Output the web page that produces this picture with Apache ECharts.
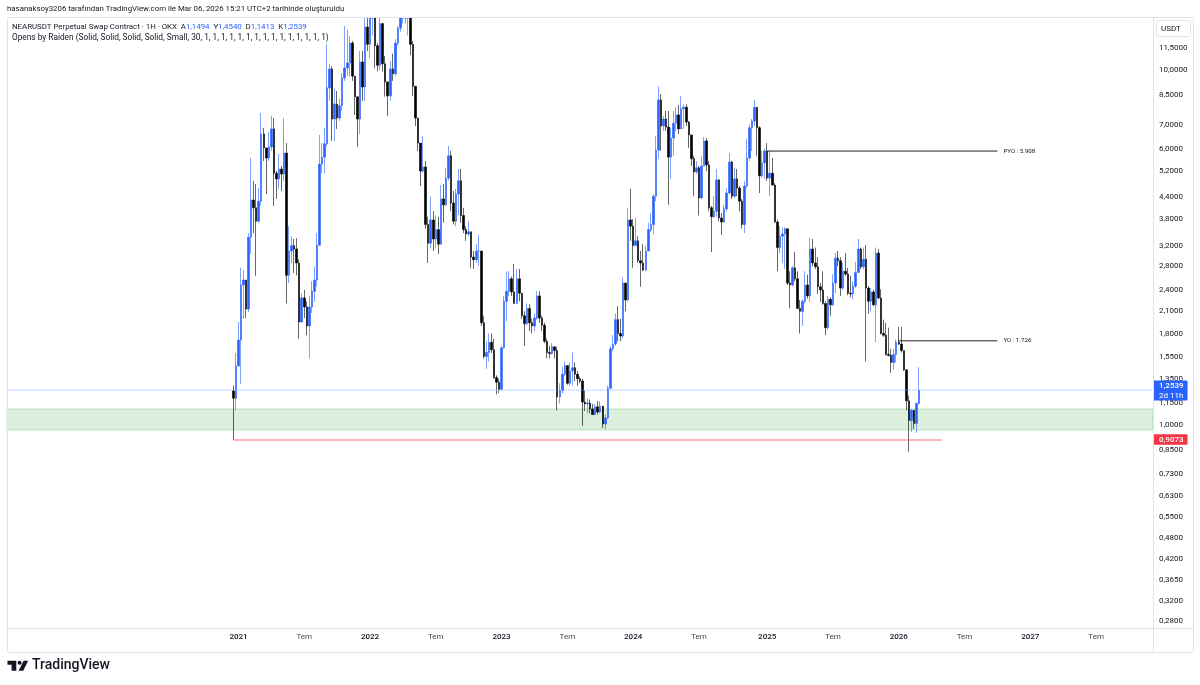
<!DOCTYPE html>
<html>
<head>
<meta charset="utf-8">
<title>NEARUSDT</title>
<style>
  html, body { margin: 0; padding: 0; background: #ffffff; }
  #chart { width: 1200px; height: 685px; }
</style>
<script src="https://cdn.jsdelivr.net/npm/echarts@6/dist/echarts.min.js"></script>
</head>
<body>
<div id="chart"></div>
<script>
const firstWeek = "2020-12-21";
const weeksBefore = 89;
const weeksTotal = 453;

const opens = [
  1.247,1.19,1.466,1.735,2.48,2.56,2.12,3.38,4.30,4.09,
  3.75,4.27,6.6,6.03,5.65,6.07,6.82,5.12,4.93,5.26,
  5.09,5.83,2.64,3.09,3.2,3.13,2.86,1.95,2.28,2.15,
  1.9,2.15,2.38,2.56,3.21,5.43,5.68,6.19,8.9,10.06,
  7.27,8.01,7.32,7.92,9.5,10.13,10.46,11.9,9.6,8.4,
  7.27,10.53,8.95,13.2,11.8,17,14,11.7,10.3,13.5,
  10.4,9.25,8.45,10.06,9.75,11.9,13.1,16,17.5,15.5,
  14.2,11.8,8.99,7.32,6.22,5.19,5.33,3.67,3.25,3.78,
  3.34,3.55,3.23,4.33,4.17,4.96,5.73,4.22,3.75,4.47,
  4.87,3.89,3.55,3.45,3.5,2.97,2.92,3.09,3.09,1.94,
  1.56,1.6,1.71,1.63,1.36,1.32,1.26,1.65,2.23,2.38,
  2.58,2.37,2.2,2.58,2.35,2.03,1.93,2.13,1.94,1.9,
  2.0,2.31,2.0,1.91,1.72,1.6,1.59,1.66,1.62,1.2,
  1.25,1.39,1.47,1.31,1.42,1.45,1.39,1.35,1.33,1.16,
  1.146,1.153,1.11,1.07,1.125,1.088,1.13,1.006,1.047,1.27,
  1.64,1.69,1.98,1.81,1.78,2.51,2.25,3.78,3.63,3.2,
  3.3,2.9,2.86,2.73,3.09,3.55,3.67,4.41,5.95,8.23,
  6.95,7.27,6.9,5.68,6.43,7.08,7.47,6.82,7.77,7.85,
  7.13,6.56,5.62,5.16,5.3,4.36,5.36,6.31,5.4,4.09,
  3.86,4.0,4.9,3.83,3.73,4.06,4.5,5.5,4.41,4.93,
  4.65,4.27,3.67,4.71,5.65,6.87,7.18,7.85,6.87,5.03,
  5.47,5.91,4.96,5.12,4.74,3.73,3.16,3.4,3.45,3.57,
  2.51,2.48,2.77,2.58,2.13,2.09,2.23,2.48,2.31,3.13,
  2.86,2.79,2.45,2.4,2.2,1.88,2.26,2.18,2.51,2.95,
  2.9,2.43,2.71,2.66,2.35,2.34,2.46,2.69,3.13,2.79,
  2.93,2.43,2.23,2.37,2.18,3.05,2.28,1.81,1.79,1.58,
  1.57,1.5,1.58,1.71,1.69,1.62,1.43,1.17,1.03,1.1,
  1.01,1.1494
];

const closes = [
  1.19,1.466,1.735,2.48,2.56,2.12,3.38,4.30,4.09,3.75,
  4.27,6.6,6.03,5.65,6.07,6.82,5.12,4.93,5.26,5.09,
  5.83,2.64,3.09,3.2,3.13,2.86,1.95,2.28,2.15,1.9,
  2.15,2.38,2.56,3.21,5.43,5.68,6.19,8.9,10.06,7.27,
  8.01,7.32,7.92,9.5,10.13,10.46,11.9,9.6,8.4,7.27,
  10.53,8.95,13.2,11.8,17,14,11.7,10.3,13.5,10.4,
  9.25,8.45,10.06,9.75,11.9,13.1,16,17.5,15.5,14.2,
  11.8,8.99,7.32,6.22,5.19,5.33,3.67,3.25,3.78,3.34,
  3.55,3.23,4.33,4.17,4.96,5.73,4.22,3.75,4.47,4.87,
  3.89,3.55,3.45,3.5,2.97,2.92,3.09,3.09,1.94,1.56,
  1.6,1.71,1.63,1.36,1.32,1.26,1.65,2.23,2.38,2.58,
  2.37,2.2,2.58,2.35,2.03,1.93,2.13,1.94,1.9,2.0,
  2.31,2.0,1.91,1.72,1.6,1.59,1.66,1.62,1.2,1.25,
  1.39,1.47,1.31,1.42,1.45,1.39,1.35,1.33,1.16,1.146,
  1.153,1.11,1.07,1.125,1.088,1.13,1.006,1.047,1.27,1.64,
  1.69,1.98,1.81,1.78,2.51,2.25,3.78,3.63,3.2,3.3,
  2.9,2.86,2.73,3.09,3.55,3.67,4.41,5.95,8.23,6.95,
  7.27,6.9,5.68,6.43,7.08,7.47,6.82,7.77,7.85,7.13,
  6.56,5.62,5.16,5.3,4.36,5.36,6.31,5.4,4.09,3.86,
  4.0,4.9,3.83,3.73,4.06,4.5,5.5,4.41,4.93,4.65,
  4.27,3.67,4.71,5.65,6.87,7.18,7.85,6.87,5.03,5.47,
  5.91,4.96,5.12,4.74,3.73,3.16,3.4,3.45,3.57,2.51,
  2.48,2.77,2.58,2.13,2.09,2.23,2.48,2.31,3.13,2.86,
  2.79,2.45,2.4,2.2,1.88,2.26,2.18,2.51,2.95,2.9,
  2.43,2.71,2.66,2.35,2.34,2.46,2.69,3.13,2.79,2.93,
  2.43,2.23,2.37,2.18,3.05,2.28,1.81,1.79,1.58,1.57,
  1.5,1.58,1.71,1.69,1.62,1.43,1.17,1.03,1.1,1.01,
  1.1494,1.2539
];

const highs = [
  1.29,1.595,1.95,2.77,2.73,2.56,3.47,5.65,4.87,4.77,
  4.65,7.56,6.87,6.03,6.68,7.42,7.32,5.19,5.8,5.36,
  7.32,6.22,3.63,3.4,3.34,3.36,2.93,2.34,2.4,2.23,
  2.31,2.54,2.79,3.47,6.56,6.22,6.87,11.8,10.4,10.25,
  8.84,8.72,8.3,9.8,13.3,13,12.45,12.06,9.6,8.4,
  11.31,11.31,15,14.5,18.5,20,15,11.9,15,12.2,
  10.95,9.25,10.6,11.1,12.2,13.3,17,19,20.4,17,
  15,12.06,8.99,7.32,6.19,6.5,5.54,3.86,4.4,4.0,
  3.89,3.86,4.74,4.77,5.3,6.11,5.91,4.56,4.62,5.26,
  5.26,4.09,3.63,3.75,3.5,3.09,3.23,3.43,3.09,2.03,
  1.72,1.81,1.81,1.75,1.38,1.35,1.67,2.31,2.71,2.71,
  2.62,2.84,2.75,2.75,2.35,2.09,2.2,2.19,1.99,2.06,
  2.38,2.38,2.03,1.94,1.75,1.67,1.7,1.66,1.66,1.31,
  1.46,1.51,1.47,1.5,1.6,1.5,1.42,1.37,1.35,1.25,
  1.19,1.18,1.146,1.146,1.168,1.168,1.088,1.07,1.29,1.67,
  1.79,2.06,2.16,1.99,2.6,2.51,4.09,4.62,3.8,3.83,
  3.4,3.09,3.23,3.2,3.71,3.95,4.47,6.5,8.99,8.55,
  7.42,7.66,7.66,6.87,7.66,7.85,7.97,8.45,8.0,8.0,
  7.18,6.56,5.73,5.54,5.36,5.73,6.47,6.43,5.54,4.14,
  4.41,5.26,4.93,3.95,4.17,4.65,5.83,5.54,5.3,5.26,
  4.71,4.33,4.87,6.39,7.03,7.27,8.23,7.85,6.95,5.91,
  6.0,6.22,5.91,5.65,4.8,3.78,3.63,3.6,3.6,3.57,
  2.71,2.8,3.07,2.71,2.25,2.26,2.71,2.65,3.36,3.34,
  3.16,2.97,2.51,2.71,2.23,2.31,2.29,2.66,3.05,3.09,
  2.97,2.86,3.05,2.77,2.63,2.54,2.88,3.34,3.16,3.16,
  3.21,2.46,2.43,2.4,3.16,3.13,2.41,1.98,1.94,1.88,
  1.64,1.64,1.74,1.89,1.89,1.62,1.43,1.21,1.11,1.05,
  1.16,1.454
];

const lows = [
  0.9073,1.10,1.466,1.305,1.99,2.0,2.08,3.03,3.47,2.63,
  3.71,4.14,5.54,4.47,5.54,5.91,4.14,4.33,4.62,4.56,
  4.87,2.2,2.51,2.86,2.68,2.64,1.75,1.94,2.0,1.79,
  1.54,2.07,2.22,2.46,3.2,5.12,5.12,6.1,8.18,6.31,
  6.31,6.82,7.18,7.66,9.31,9.6,9.6,9.31,7.47,6.07,
  6.6,8.18,8.18,11.3,10.8,12.5,10.1,9.9,10,9.9,
  8.4,7.42,8.18,9.31,9.6,11.7,12.8,13.5,13.5,12.5,
  11,8.45,6.95,5.91,4.71,5.12,3.57,2.86,3.14,3.09,
  3.14,3.03,3.47,3.71,4.14,4.87,4.0,3.67,3.63,3.89,
  3.71,3.47,3.3,3.4,2.77,2.75,2.86,2.8,1.9,1.54,
  1.44,1.51,1.595,1.35,1.22,1.23,1.25,1.64,1.96,2.31,
  2.31,2.2,2.19,2.23,1.99,1.67,1.91,1.84,1.81,1.84,
  1.98,1.94,1.84,1.70,1.54,1.54,1.58,1.54,1.1,1.15,
  1.23,1.37,1.3,1.29,1.29,1.33,1.29,1.31,0.994,1.095,
  1.08,1.08,1.067,1.095,1.07,1.08,0.98,0.974,1.04,1.26,
  1.616,1.67,1.72,1.72,1.75,2.09,2.23,3.3,2.77,3.2,
  2.86,2.45,2.71,2.71,3.09,3.5,3.45,4.27,5.62,5.91,
  6.73,6.73,4.17,4.93,5.73,6.73,6.6,6.82,6.82,6.95,
  6.03,5.36,4.41,5.09,3.89,4.33,5.36,5.19,4.0,3.07,
  3.83,3.86,3.75,3.43,3.71,4.0,4.47,4.33,4.36,4.41,
  4.0,3.57,3.47,4.65,5.54,5.91,6.95,5.73,4.5,4.96,
  4.93,4.87,4.41,4.71,3.71,2.71,3.05,2.86,2.75,2.48,
  2.13,2.46,2.54,2.12,1.81,1.9,2.2,2.27,2.22,2.8,
  2.75,2.34,2.22,2.18,1.79,1.86,2.03,2.16,2.35,2.8,
  2.31,2.4,2.63,2.32,2.29,2.26,2.43,2.68,2.75,2.75,
  1.51,2.06,2.09,2.16,1.71,2.26,1.8,1.77,1.57,1.56,
  1.4,1.43,1.5,1.68,1.6,1.42,1.1,0.84,0.955,0.974,
  0.95,1.1413
];

const priceTicks = [11.5, 10, 8.5, 7, 6, 5.2, 4.4, 3.8, 3.2, 2.8, 2.4, 2.1, 1.8, 1.55, 1.35, 1.15, 1, 0.85, 0.73, 0.63, 0.55, 0.48, 0.42, 0.365, 0.32, 0.28];
const dateTicks = ["2021-01-04", "2021-07-05", "2022-01-03", "2022-07-04", "2023-01-02", "2023-07-03", "2024-01-01", "2024-07-01", "2025-01-06", "2025-07-07", "2026-01-05", "2026-07-06", "2027-01-04", "2027-07-05"];
const dateLabels = ["2021", "Tem", "2022", "Tem", "2023", "Tem", "2024", "Tem", "2025", "Tem", "2026", "Tem", "2027", "Tem"];

const priceMin = 0.2664;
const priceMax = 14;
const lastPrice = 1.2539;
const supportLow = 0.9073;
const zoneTop = 1.11;
const zoneBottom = 0.968;
const pyoLine = [["2025-01-06", 5.908], ["2026-10-05", 5.908]];
const yoLine = [["2026-01-05", 1.726], ["2026-10-05", 1.726]];
const lowLine = [["2020-12-21", supportLow], ["2026-05-04", supportLow]];

const FONT = "Roboto, sans-serif";
const TEXT = "#131722";
const BORDER = "#e0e3eb";

function fmtPrice(value) {
  return value.toFixed(4).replace(".", ",");
}

function weekDate(index) {
  const ms = Date.parse(firstWeek + "T00:00:00Z") + index * 7 * 86400000;
  return new Date(ms).toISOString().slice(0, 10);
}

const weeks = [];
for (let i = -weeksBefore; i < weeksTotal - weeksBefore; i += 1) weeks.push(weekDate(i));

const lastPriceLine = [[weeks[0], lastPrice], [weeks[weeks.length - 1], lastPrice]];

// candlestick boxes are not cut at the grid edge, the run above the pane has to be capped here
function capped(value) {
  return Math.min(value, priceMax);
}

const candles = closes.map((close, i) => [weekDate(i), capped(opens[i]), capped(close), lows[i], capped(highs[i])]);

function hLine(name, data, color, label, type) {
  return {
    type: "line",
    name,
    data,
    symbol: "none",
    silent: true,
    lineStyle: { color, width: 1, type: type || "solid" },
    endLabel: label
      ? { show: true, formatter: label, color: TEXT, fontSize: 6.2, fontFamily: FONT, distance: 6 }
      : { show: false },
    z: 3,
  };
}

const chart = echarts.init(document.getElementById("chart"), null, { renderer: "canvas" });

chart.setOption({
  animation: false,
  backgroundColor: "#ffffff",
  grid: { left: 7, right: 47, top: 18, bottom: 56 },
  xAxis: {
    type: "category",
    data: weeks,
    axisLine: { show: false },
    axisTick: { show: false },
    splitLine: { show: false },
    axisLabel: {
      interval: (index, value) => dateTicks.includes(value),
      margin: 4,
      fontSize: 8,
      fontFamily: FONT,
      color: TEXT,
      hideOverlap: false,
      formatter: (value) => {
        const label = dateLabels[dateTicks.indexOf(value)];
        return label === "Tem" ? "{month|Tem}" : "{year|" + label + "}";
      },
      rich: {
        year: { fontSize: 8, fontFamily: FONT, fontWeight: 500, color: TEXT },
        month: { fontSize: 8, fontFamily: FONT, color: "#434651" },
      },
    },
  },
  yAxis: {
    type: "log",
    position: "right",
    logBase: 10,
    min: priceMin,
    max: priceMax,
    axisLine: { show: false },
    axisTick: { show: false },
    splitLine: { show: false },
    axisLabel: {
      customValues: priceTicks,
      margin: 6,
      fontSize: 8,
      fontFamily: FONT,
      color: TEXT,
      formatter: (value) => fmtPrice(value),
    },
  },
  series: [
    {
      type: "candlestick",
      name: "NEARUSDT",
      data: candles,
      encode: { x: 0, y: [1, 2, 3, 4] },
      barWidth: 2,
      itemStyle: {
        color: "#2962ff",
        color0: "#000000",
        borderColor: "rgba(41,98,255,0.6)",
        borderColor0: "rgba(0,0,0,0.6)",
        borderWidth: 1,
      },
      markArea: {
        silent: true,
        itemStyle: { color: "rgba(76,175,80,0.2)", borderColor: "rgba(76,175,80,0.3)", borderWidth: 1 },
        data: [[{ yAxis: zoneTop }, { yAxis: zoneBottom }]],
      },
      markLine: {
        silent: true,
        symbol: "none",
        animation: false,
        lineStyle: { color: "rgba(0,0,0,0)", width: 0 },
        data: [
          {
            yAxis: lastPrice,
            label: {
              show: true,
              position: "end",
              distance: 0,
              formatter: "{a|" + fmtPrice(lastPrice) + "}\n{b|2d 11h}",
              backgroundColor: "#2962ff",
              padding: [1, 4, 0, 6],
              borderRadius: 1,
              rich: {
                a: { color: "#ffffff", fontSize: 8, fontFamily: FONT, fontWeight: 500, lineHeight: 9.5 },
                b: { color: "#ffffff", fontSize: 8, fontFamily: FONT, lineHeight: 9.5 },
              },
            },
          },
          {
            yAxis: supportLow,
            label: {
              show: true,
              position: "end",
              distance: 0,
              formatter: fmtPrice(supportLow),
              color: "#ffffff",
              fontSize: 8,
              fontFamily: FONT,
              fontWeight: 500,
              backgroundColor: "#f23645",
              padding: [1.5, 4, 1, 6],
              borderRadius: 1,
            },
          },
        ],
      },
      z: 2,
    },
    hLine("PYO", pyoLine, "#222222", "PYO : 5.908"),
    hLine("YO", yoLine, "#222222", "YO : 1.726"),
    hLine("low", lowLine, "#f56c72", null),
    hLine("last", lastPriceLine, "#8fa9ff", null, "dotted"),
  ],
  graphic: [
    { type: "rect", shape: { x: 7.5, y: 17.5, width: 1186, height: 635, r: 2 }, style: { fill: "none", stroke: BORDER, lineWidth: 1 }, z: 10 },
    { type: "line", shape: { x1: 7, y1: 628.5, x2: 1193, y2: 628.5 }, style: { stroke: BORDER, lineWidth: 1 }, z: 10 },
    { type: "line", shape: { x1: 1153.5, y1: 17, x2: 1153.5, y2: 652 }, style: { stroke: BORDER, lineWidth: 1 }, z: 10 },
    { type: "rect", shape: { x: 1156.5, y: 20.5, width: 34, height: 16, r: 2 }, style: { fill: "#ffffff", stroke: BORDER, lineWidth: 1 }, z: 11 },
    { type: "text", x: 1161, y: 24.5, style: { text: "USDT", fill: TEXT, font: "8px " + FONT }, z: 12 },
    { type: "text", x: 7, y: 5, style: { text: "hasanaksoy3206 tarafından TradingView.com ile Mar 06, 2026 15:21 UTC+2 tarihinde oluşturuldu", fill: TEXT, font: "7.85px " + FONT }, z: 12 },
    {
      type: "text",
      x: 12,
      y: 23,
      style: {
        text: "NEARUSDT Perpetual Swap Contract · 1H · OKX  A{v|1,1494}  Y{v|1,4540}  D{v|1,1413}  K{v|1,2539}",
        fill: TEXT,
        font: "7.85px " + FONT,
        rich: { v: { fill: "#2962ff", font: "7.85px " + FONT } },
      },
      z: 12,
    },
    { type: "text", x: 12, y: 34, style: { text: "Opens by Raiden (Solid, Solid, Solid, Solid, Small, 30, 1, 1, 1, 1, 1, 1, 1, 1, 1, 1, 1, 1, 1, 1, 1)", fill: TEXT, font: "8.3px " + FONT }, z: 12 },
    { type: "polygon", shape: { points: [[7.5, 660.7], [16.3, 660.7], [16.3, 670.7], [11.6, 670.7], [11.6, 664.7], [7.5, 664.7]] }, style: { fill: "#131722" }, z: 12 },
    { type: "circle", shape: { cx: 19.6, cy: 662.7, r: 2 }, style: { fill: "#131722" }, z: 12 },
    { type: "polygon", shape: { points: [[23.6, 660.7], [28.2, 660.7], [23.2, 670.7], [18.6, 670.7]] }, style: { fill: "#131722" }, z: 12 },
    { type: "text", x: 32, y: 658, style: { text: "TradingView", fill: "#131722", font: "500 14px " + FONT }, z: 12 },
  ],
});
</script>
</body>
</html>
